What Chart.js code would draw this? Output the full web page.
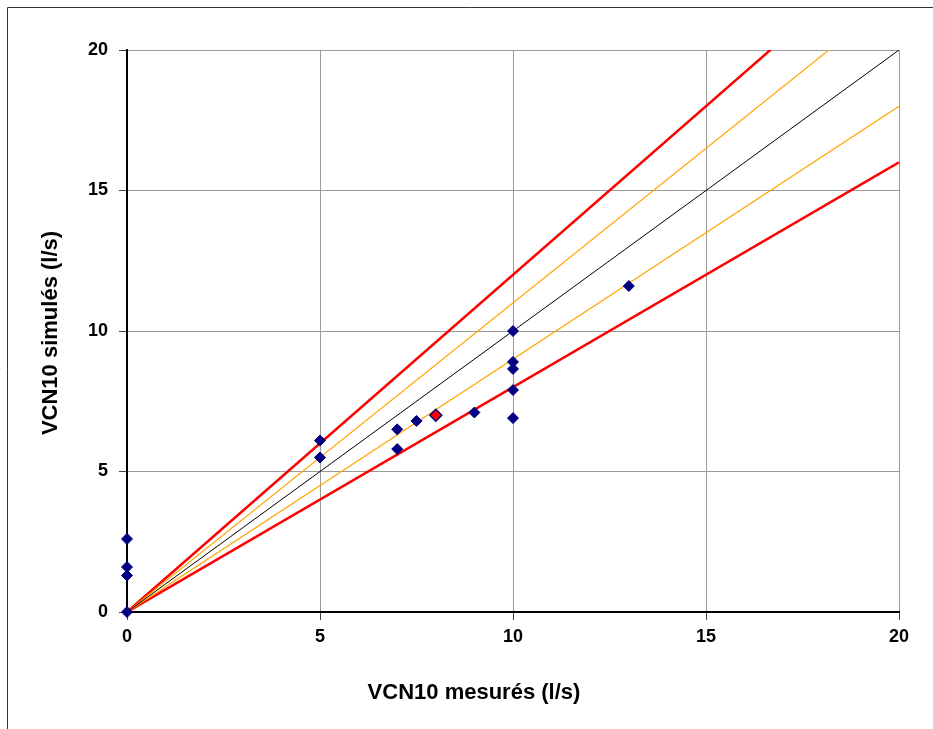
<!DOCTYPE html>
<html>
<head>
<meta charset="utf-8">
<script src="https://cdn.jsdelivr.net/npm/chart.js@4.4.1/dist/chart.umd.min.js"></script>
<style>
html,body{margin:0;padding:0;background:#fff;overflow:hidden;}
#wrap{position:relative;width:933px;height:729px;}
</style>
</head>
<body>
<div id="wrap"><canvas id="c" width="933" height="729"></canvas></div>
<script>
// Data
const measured  = [0, 0, 0, 0, 5, 5, 7, 7, 7.5, 9, 10, 10, 10, 10, 10, 13];
const simulated = [0, 1.3, 1.6, 2.6, 6.1, 5.5, 6.5, 5.8, 6.8, 7.1, 10.0, 8.9, 8.65, 7.9, 6.9, 11.6];
const highlightMeasured  = [8];
const highlightSimulated = [7.0];
// Reference lines (end points; lines are clipped at the plot area)
const lineX = [0, 20];
const line1to1 = [0, 20];
const linePlus10 = [0, 22];
const lineMinus10 = [0, 18];
const linePlus20 = [0, 24];
const lineMinus20 = [0, 16];
const tickValues = [0, 5, 10, 15, 20];
const xTitle = 'VCN10 mesurés (l/s)';
const yTitle = 'VCN10 simulés (l/s)';

const pts = (xs, ys) => xs.map((x, i) => ({x: x, y: ys[i]}));

const FONT = '"Liberation Sans", Arial, sans-serif';

const frame = {
  id: 'frame',
  beforeDraw(chart) {
    const ctx = chart.ctx;
    ctx.save();
    ctx.fillStyle = '#fff';
    ctx.fillRect(0, 0, chart.width, chart.height);
    ctx.strokeStyle = '#333';
    ctx.lineWidth = 1;
    ctx.beginPath();
    ctx.moveTo(7.5, 729);
    ctx.lineTo(7.5, 7.5);
    ctx.lineTo(933, 7.5);
    ctx.stroke();
    ctx.restore();
  },
  afterDraw(chart) {
    const ctx = chart.ctx;
    ctx.save();
    ctx.fillStyle = '#000';
    ctx.font = 'bold 22px ' + FONT;
    ctx.textAlign = 'center';
    ctx.textBaseline = 'middle';
    ctx.fillText(xTitle, 474, 693);
    ctx.translate(51, 333);
    ctx.rotate(-Math.PI / 2);
    ctx.fillText(yTitle, 0, 0);
    ctx.restore();
  }
};

new Chart(document.getElementById('c'), {
  type: 'scatter',
  data: {
    datasets: [
      {
        label: 'VCN10',
        data: pts(measured, simulated),
        pointStyle: 'rectRot',
        pointRadius: 5.5,
        pointHoverRadius: 5.5,
        backgroundColor: '#000080',
        borderColor: '#000080',
        borderWidth: 1,
        clip: false,
        order: 0
      },
      {
        label: 'highlight',
        data: pts(highlightMeasured, highlightSimulated),
        pointStyle: 'rectRot',
        pointRadius: 6,
        pointHoverRadius: 6,
        backgroundColor: '#ff0000',
        borderColor: '#000080',
        borderWidth: 1.5,
        clip: false,
        order: 0
      },
      {
        label: '1:1',
        data: pts(lineX, line1to1),
        showLine: true, pointRadius: 0,
        borderColor: '#000000', borderWidth: 1, order: 1
      },
      {
        label: '+10%',
        data: pts(lineX, linePlus10),
        showLine: true, pointRadius: 0,
        borderColor: '#ffa500', borderWidth: 1.2, order: 1
      },
      {
        label: '-10%',
        data: pts(lineX, lineMinus10),
        showLine: true, pointRadius: 0,
        borderColor: '#ffa500', borderWidth: 1.2, order: 1
      },
      {
        label: '+20%',
        data: pts(lineX, linePlus20),
        showLine: true, pointRadius: 0,
        borderColor: '#ff0000', borderWidth: 2.5, order: 1
      },
      {
        label: '-20%',
        data: pts(lineX, lineMinus20),
        showLine: true, pointRadius: 0,
        borderColor: '#ff0000', borderWidth: 2.5, order: 1
      }
    ]
  },
  options: {
    responsive: false,
    animation: false,
    events: [],
    layout: { padding: { left: 0, top: 50, right: 34, bottom: 0 } },
    plugins: { legend: { display: false }, tooltip: { enabled: false } },
    scales: {
      x: {
        type: 'linear', min: 0, max: 20,
        afterFit(s) { s.height = 117; },
        afterBuildTicks(s) { s.ticks = tickValues.map(v => ({value: v})); },
        ticks: { color: '#000', font: { family: FONT, size: 18, weight: 'bold' }, padding: 6 },
        grid: {
          color: ctx => ctx.tick && ctx.tick.value === 0 ? 'rgba(0,0,0,0)' : '#9a9a9a',
          lineWidth: 1,
          tickColor: '#444', tickLength: 8
        },
        border: { color: '#000', width: 2 }
      },
      y: {
        type: 'linear', min: 0, max: 20,
        afterFit(s) { s.width = 127; },
        afterBuildTicks(s) { s.ticks = tickValues.map(v => ({value: v})); },
        ticks: { color: '#000', font: { family: FONT, size: 18, weight: 'bold' }, padding: 11 },
        grid: {
          color: ctx => ctx.tick && ctx.tick.value === 0 ? 'rgba(0,0,0,0)' : '#9a9a9a',
          lineWidth: 1,
          tickColor: '#444', tickLength: 8
        },
        border: { color: '#000', width: 2 }
      }
    }
  },
  plugins: [frame]
});
</script>
</body>
</html>
